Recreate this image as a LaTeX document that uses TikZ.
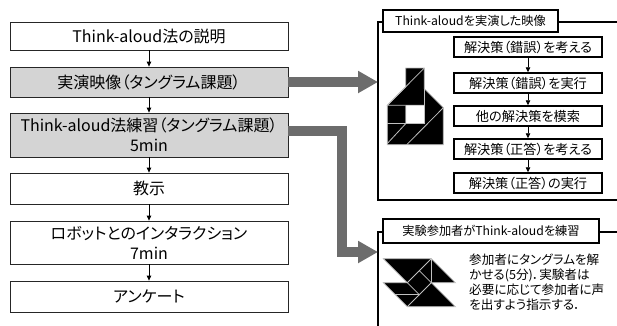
\documentclass[tikz,border=0pt]{standalone}
\usepackage{fontspec}
\setmainfont{Noto Sans CJK JP}[RawFeature=+palt]
\usetikzlibrary{arrows.meta}
\definecolor{boxgray}{RGB}{212,212,212}
\definecolor{pathgray}{RGB}{108,108,108}
\definecolor{seamgray}{RGB}{192,192,192}

\begin{document}
\begin{tikzpicture}[x=1pt,y=-1pt,
  stage/.style={draw=black!85, line width=0.8pt, minimum width=278pt, inner sep=0pt,
    font=\fontsize{16}{20}\selectfont, align=center},
  shaded/.style={stage, fill=boxgray},
  scene/.style={draw=black, line width=1.5pt, minimum width=148pt, minimum height=20pt,
    inner sep=0pt, font=\fontsize{13.2}{16}\selectfont},
  caption/.style={draw=black, line width=1.3pt, fill=white, inner sep=0pt,
    font=\fontsize{12.2}{14}\selectfont},
  flow/.style={line width=0.8pt, -{Triangle[length=5pt,width=4.5pt]}},
  seam/.style={draw=seamgray, line width=0.8pt},
  bigarrow/.style={line width=10pt, draw=pathgray, line join=miter,
    -{Triangle[length=20pt,width=21pt]}},
  frameline/.style={line width=1.2pt}
]
\useasboundingbox (0,0) rectangle (617,325);
\fill[white] (0,0) rectangle (617,325);

% ---- procedure column ----
\node[stage,  minimum height=28pt] (p1) at (149,36)    {Think-aloud法の説明};
\node[shaded, minimum height=30pt] (p2) at (149,82)    {実演映像（タングラム課題）};
\node[shaded, minimum height=44pt] (p3) at (149,135)   {Think-aloud法練習（タングラム課題）\\5min};
\node[stage,  minimum height=31pt] (p4) at (149,188.5) {教示};
\node[stage,  minimum height=43pt] (p5) at (149,242.5) {ロボットとのインタラクション\\7min};
\node[stage,  minimum height=31pt] (p6) at (149,296.5) {アンケート};

\draw[flow] (p1) -- (p2);
\draw[flow] (p2) -- (p3);
\draw[flow] (p3) -- (p4);
\draw[flow] (p4) -- (p5);
\draw[flow] (p5) -- (p6);

% ---- frame: demonstration video ----
\coordinate (f1tl) at (378,22);
\coordinate (f1tr) at (617,22);
\coordinate (f1bl) at (378,200);
\coordinate (f1br) at (617,200);
\draw[frameline] (f1tr) -- (f1tl) -- (f1bl) -- (f1br);
\node[caption, minimum width=175pt, minimum height=22pt] (t1) at (470.5,21) {Think-aloudを実演した映像};

\node[scene] (s1) at (528,47)  {解決策（錯誤）を考える};
\node[scene] (s2) at (528,83)  {解決策（錯誤）を実行};
\node[scene] (s3) at (528,116) {他の解決策を模索};
\node[scene] (s4) at (528,149) {解決策（正答）を考える};
\node[scene] (s5) at (528,183) {解決策（正答）の実行};
\draw[flow] (s1) -- (s2);
\draw[flow] (s2) -- (s3);
\draw[flow] (s3) -- (s4);
\draw[flow] (s4) -- (s5);

% house-shaped tangram
\fill[black] (405.7,68) -- (424.3,68) -- (424.3,88.7) -- (443.3,107.7) -- (443.3,144.7)
  -- (387.3,144.7) -- (387.3,105.3) -- (405.7,86.8) -- cycle;
\fill[white] (405.7,105.3) rectangle (424.3,123.7);
\draw[seam] (405.7,68) -- (424.3,68) -- (424.3,88.7) -- (443.3,107.7) -- (443.3,144.7)
  -- (387.3,144.7) -- (387.3,105.3) -- (405.7,86.8) -- cycle;
\draw[seam] (424.3,68) -- (387.3,105.3) -- (424.3,105.3);
\draw[seam] (424.3,88.7) -- (424.3,123.7) -- (387.3,123.7);
\draw[seam] (405.7,105.3) -- (405.7,123.7) -- (387.3,143.5);
\draw[seam] (443.3,107.7) -- (406.7,144.7);

% ---- frame: participant practice ----
\coordinate (f2tl) at (378,232);
\coordinate (f2tr) at (617,232);
\coordinate (f2bl) at (378,330);
\draw[frameline] (f2tr) -- (f2tl) -- (f2bl);
\node[caption, minimum width=216pt, minimum height=24pt] (t2) at (491,231) {実験参加者がThink-aloudを練習};

% swirl-shaped tangram
\fill[black] (383.3,258.7) -- (431.3,258.7) -- (455.3,282.7) -- (431.3,282.7) -- (455.3,306.7)
  -- (407.3,306.7) -- (383.3,282.7) -- (407.3,282.7) -- cycle;
\draw[seam] (383.3,258.7) -- (431.3,258.7) -- (455.3,282.7) -- (431.3,282.7) -- (455.3,306.7)
  -- (407.3,306.7) -- (383.3,282.7) -- (407.3,282.7) -- cycle;
\draw[seam] (431.3,258.7) -- (407.3,282.7) -- (419.3,294.7) -- (431.3,282.7) -- (419.3,270.7);
\draw[seam] (431.3,258.7) -- (431.3,282.7);
\draw[seam] (407.3,306.7) -- (419.3,294.7);
\draw[seam] (395.3,294.7) -- (419.3,294.7);

\node[anchor=north west, inner sep=0pt, align=left, font=\fontsize{12.6}{15.2}\selectfont] (note) at (469,253.5)
  {参加者にタングラムを解\\かせる(5分)．実験者は\\必要に応じて参加者に声\\を出すよう指示する．};

% ---- links from the procedure to the frames ----
\coordinate (bend) at (341.7,131);
\coordinate (f2in) at (378,252);
\draw[bigarrow] (p2.east) -- (p2.east -| f1tl);
\draw[bigarrow] (p3.east |- bend) -- (bend) -- (bend |- f2in) -- (f2in);
\end{tikzpicture}
\end{document}
